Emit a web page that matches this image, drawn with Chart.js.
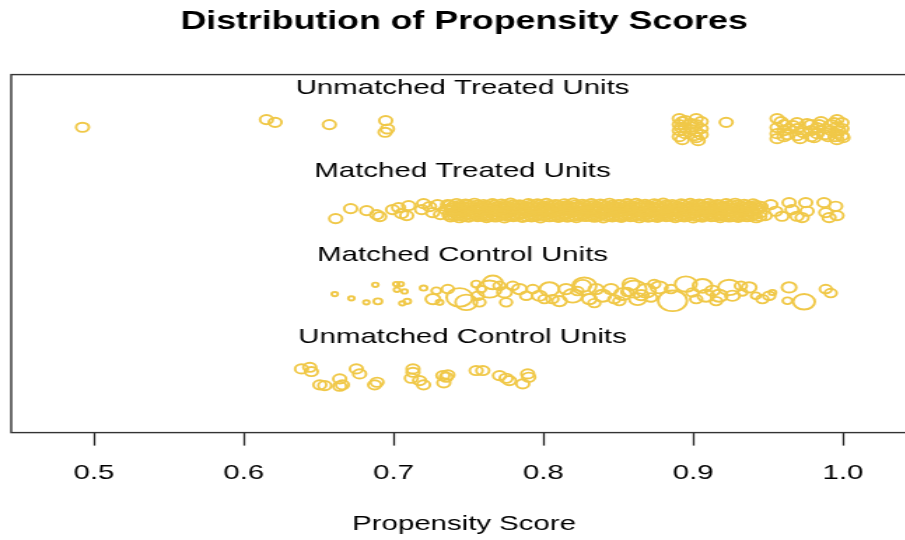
<!DOCTYPE html>
<html lang="en">
<head>
  <meta charset="UTF-8" />
  <title>Distribution of Propensity Scores</title>
  <script src="https://cdn.jsdelivr.net/npm/chart.js"></script>
  <style>
    html, body { margin: 0; padding: 0; overflow: hidden; background: #fff; }
    #wrap { width: 924px; height: 540px; }
  </style>
</head>
<body>
  <div id="wrap">
    <!-- drawn narrow, shown stretched like the original plot -->
    <canvas id="plot" width="660" height="540" style="width:924px;height:540px"></canvas>
  </div>

  <script>
    // tick labels on the x axis
    const tickValues = [0.5, 0.6, 0.7, 0.8, 0.9, 1.0];

    // group names and where their captions sit (y units, one per group)
    const groupNames = ['Unmatched Treated Units', 'Matched Treated Units', 'Matched Control Units', 'Unmatched Control Units'];
    const groupLabelY = [3.47, 2.47, 1.47, 0.48];
    const groupLabelX = 0.746;

    // [propensity score, jittered y]
    const unmatchedTreated = [
      [0.4923, 2.998], [0.6151, 3.090], [0.6209, 3.057], [0.6571, 3.030], [0.6947, 3.078], [0.6959, 2.978], [0.6943, 2.938],
      [0.8907, 3.102], [0.8907, 3.030], [0.8907, 2.958], [0.8907, 2.886], [0.8927, 2.850], [0.8927, 3.066], [0.8920, 2.994],
      [0.8947, 3.078], [0.8947, 2.994], [0.8947, 2.922], [0.8987, 3.042], [0.8987, 2.970], [0.9007, 2.898],
      [0.9020, 3.102], [0.9020, 3.030], [0.9020, 2.946], [0.9020, 2.874], [0.9033, 2.838],
      [0.9053, 3.066], [0.9053, 2.982], [0.9053, 2.910],
      [0.9220, 3.057],
      [0.9560, 3.102], [0.9560, 2.994], [0.9560, 2.922], [0.9560, 2.862], [0.9587, 3.066],
      [0.9607, 3.030], [0.9607, 2.958], [0.9607, 2.886], [0.9627, 2.910], [0.9640, 2.982], [0.9667, 3.018],
      [0.9693, 3.054], [0.9693, 2.982], [0.9693, 2.898], [0.9713, 2.862], [0.9733, 2.934], [0.9760, 3.042],
      [0.9787, 3.030], [0.9787, 2.958], [0.9787, 2.886], [0.9807, 2.874],
      [0.9827, 2.994], [0.9827, 2.922], [0.9840, 3.030], [0.9853, 3.066],
      [0.9880, 2.982], [0.9880, 2.910], [0.9900, 2.886], [0.9920, 3.030], [0.9920, 2.958], [0.9940, 3.054],
      [0.9960, 3.090], [0.9960, 3.006], [0.9960, 2.922], [0.9960, 2.850], [0.9947, 2.886], [0.9973, 2.958],
      [0.9993, 3.054], [0.9993, 2.982], [0.9993, 2.898], [1.0000, 2.874]
    ];

    const matchedTreated = [
      // left tail
      [0.6613, 1.904], [0.6713, 2.024], [0.6820, 2.000], [0.6887, 1.952], [0.6907, 1.928], [0.6993, 2.012],
      [0.7033, 2.036], [0.7053, 1.964], [0.7087, 1.940], [0.7100, 2.060], [0.7187, 2.012], [0.7200, 2.084],
      [0.7240, 2.048], [0.7293, 2.072], [0.7260, 1.976], [0.7313, 1.952], [0.7347, 2.012],
      // dense band
      [0.736, 2.072], [0.742, 2.085], [0.748, 2.078], [0.754, 2.088], [0.760, 2.074], [0.766, 2.083], [0.772, 2.079],
      [0.778, 2.090], [0.784, 2.071], [0.790, 2.084], [0.796, 2.080], [0.802, 2.087], [0.808, 2.073], [0.814, 2.082],
      [0.820, 2.089], [0.826, 2.076], [0.832, 2.084], [0.838, 2.079], [0.844, 2.088], [0.850, 2.072], [0.856, 2.083],
      [0.862, 2.086], [0.868, 2.075], [0.874, 2.082], [0.880, 2.089], [0.886, 2.074], [0.892, 2.081], [0.898, 2.087],
      [0.904, 2.078], [0.910, 2.085], [0.916, 2.072], [0.922, 2.083], [0.928, 2.088], [0.934, 2.076], [0.940, 2.081],
      [0.7375, 2.066], [0.7435, 2.062], [0.7495, 2.069], [0.7555, 2.064], [0.7615, 2.060], [0.7675, 2.068], [0.7735, 2.063],
      [0.7795, 2.067], [0.7855, 2.061], [0.7915, 2.065], [0.7975, 2.069], [0.8035, 2.062], [0.8095, 2.066], [0.8155, 2.060],
      [0.8215, 2.068], [0.8275, 2.064], [0.8335, 2.061], [0.8395, 2.067], [0.8455, 2.063], [0.8515, 2.069], [0.8575, 2.062],
      [0.8635, 2.065], [0.8695, 2.060], [0.8755, 2.068], [0.8815, 2.064], [0.8875, 2.061], [0.8935, 2.067], [0.8995, 2.063],
      [0.9055, 2.069], [0.9115, 2.062], [0.9175, 2.066], [0.9235, 2.060], [0.9295, 2.068], [0.9355, 2.064], [0.9415, 2.061],
      [0.740, 2.055], [0.746, 2.049], [0.752, 2.058], [0.758, 2.051], [0.764, 2.056], [0.770, 2.047], [0.776, 2.054],
      [0.782, 2.059], [0.788, 2.050], [0.794, 2.056], [0.800, 2.048], [0.806, 2.057], [0.812, 2.052], [0.818, 2.046],
      [0.824, 2.055], [0.830, 2.059], [0.836, 2.050], [0.842, 2.054], [0.848, 2.047], [0.854, 2.058], [0.860, 2.051],
      [0.866, 2.056], [0.872, 2.049], [0.878, 2.055], [0.884, 2.059], [0.890, 2.048], [0.896, 2.053], [0.902, 2.057],
      [0.908, 2.050], [0.914, 2.055], [0.920, 2.046], [0.926, 2.058], [0.932, 2.052], [0.938, 2.049], [0.944, 2.055],
      [0.739, 2.031], [0.745, 2.022], [0.751, 2.035], [0.757, 2.024], [0.763, 2.030], [0.769, 2.019], [0.775, 2.033],
      [0.781, 2.026], [0.787, 2.021], [0.793, 2.034], [0.799, 2.028], [0.805, 2.020], [0.811, 2.032], [0.817, 2.025],
      [0.823, 2.036], [0.829, 2.023], [0.835, 2.029], [0.841, 2.018], [0.847, 2.033], [0.853, 2.027], [0.859, 2.021],
      [0.865, 2.035], [0.871, 2.026], [0.877, 2.030], [0.883, 2.019], [0.889, 2.032], [0.895, 2.024], [0.901, 2.029],
      [0.907, 2.036], [0.913, 2.022], [0.919, 2.031], [0.925, 2.026], [0.931, 2.020], [0.937, 2.033], [0.943, 2.027],
      [0.7385, 2.003], [0.7445, 1.996], [0.7505, 2.006], [0.7565, 1.998], [0.7625, 2.004], [0.7685, 1.995], [0.7745, 2.002],
      [0.7805, 2.007], [0.7865, 1.997], [0.7925, 2.003], [0.7985, 1.994], [0.8045, 2.005], [0.8105, 1.999], [0.8165, 2.006],
      [0.8225, 1.996], [0.8285, 2.002], [0.8345, 2.007], [0.8405, 1.998], [0.8465, 2.004], [0.8525, 1.995], [0.8585, 2.003],
      [0.8645, 1.999], [0.8705, 2.006], [0.8765, 1.997], [0.8825, 2.002], [0.8885, 2.005], [0.8945, 1.996], [0.9005, 2.003],
      [0.9065, 1.998], [0.9125, 2.006], [0.9185, 2.001], [0.9245, 1.995], [0.9305, 2.004], [0.9365, 1.999], [0.9425, 2.005],
      [0.741, 1.968], [0.747, 1.979], [0.753, 1.971], [0.759, 1.965], [0.765, 1.977], [0.771, 1.970], [0.777, 1.982],
      [0.783, 1.966], [0.789, 1.975], [0.795, 1.969], [0.801, 1.980], [0.807, 1.972], [0.813, 1.964], [0.819, 1.978],
      [0.825, 1.971], [0.831, 1.976], [0.837, 1.967], [0.843, 1.981], [0.849, 1.973], [0.855, 1.966], [0.861, 1.978],
      [0.867, 1.970], [0.873, 1.975], [0.879, 1.964], [0.885, 1.979], [0.891, 1.972], [0.897, 1.968], [0.903, 1.980],
      [0.909, 1.974], [0.915, 1.966], [0.921, 1.977], [0.927, 1.971], [0.933, 1.982], [0.939, 1.969], [0.945, 1.975],
      [0.737, 1.950], [0.743, 1.944], [0.749, 1.953], [0.755, 1.946], [0.761, 1.941], [0.767, 1.952], [0.773, 1.947],
      [0.779, 1.943], [0.785, 1.954], [0.791, 1.948], [0.797, 1.942], [0.803, 1.951], [0.809, 1.945], [0.815, 1.953],
      [0.821, 1.940], [0.827, 1.949], [0.833, 1.944], [0.839, 1.952], [0.845, 1.946], [0.851, 1.941], [0.857, 1.950],
      [0.863, 1.947], [0.869, 1.953], [0.875, 1.942], [0.881, 1.948], [0.887, 1.951], [0.893, 1.944], [0.899, 1.949],
      [0.905, 1.943], [0.911, 1.952], [0.917, 1.946], [0.923, 1.950], [0.929, 1.941], [0.935, 1.948], [0.941, 1.953],
      [0.7405, 1.935], [0.7465, 1.931], [0.7525, 1.938], [0.7585, 1.933], [0.7645, 1.929], [0.7705, 1.937], [0.7765, 1.932],
      [0.7825, 1.936], [0.7885, 1.930], [0.7945, 1.934], [0.8005, 1.939], [0.8065, 1.931], [0.8125, 1.935], [0.8185, 1.929],
      [0.8245, 1.937], [0.8305, 1.933], [0.8365, 1.930], [0.8425, 1.936], [0.8485, 1.932], [0.8545, 1.938], [0.8605, 1.931],
      [0.8665, 1.934], [0.8725, 1.929], [0.8785, 1.937], [0.8845, 1.933], [0.8905, 1.930], [0.8965, 1.936], [0.9025, 1.932],
      [0.9085, 1.938], [0.9145, 1.931], [0.9205, 1.935], [0.9265, 1.929], [0.9325, 1.937], [0.9385, 1.933], [0.9445, 1.930],
      [0.738, 1.925], [0.744, 1.914], [0.750, 1.921], [0.756, 1.928], [0.762, 1.916], [0.768, 1.923], [0.774, 1.912],
      [0.780, 1.927], [0.786, 1.919], [0.792, 1.924], [0.798, 1.913], [0.804, 1.926], [0.810, 1.918], [0.816, 1.922],
      [0.822, 1.915], [0.828, 1.929], [0.834, 1.920], [0.840, 1.913], [0.846, 1.925], [0.852, 1.918], [0.858, 1.927],
      [0.864, 1.914], [0.870, 1.922], [0.876, 1.919], [0.882, 1.928], [0.888, 1.916], [0.894, 1.924], [0.900, 1.912],
      [0.906, 1.921], [0.912, 1.927], [0.918, 1.915], [0.924, 1.923], [0.930, 1.918], [0.936, 1.926], [0.942, 1.914],
      // right tail
      [0.9453, 2.048], [0.9480, 1.940], [0.9518, 2.072], [0.9551, 1.992], [0.9593, 1.932], [0.9640, 2.096],
      [0.9660, 2.012], [0.9693, 1.932], [0.9751, 2.096], [0.9760, 1.992], [0.9727, 1.916], [0.9873, 2.096],
      [0.9885, 1.976], [0.9907, 1.916], [0.9951, 2.052], [0.9960, 1.940]
    ];

    // [propensity score, jittered y, weight]
    const matchedControl = [
      [0.6607, 1.000, 0.42], [0.6718, 0.949, 0.42], [0.6818, 0.901, 0.42], [0.6878, 1.111, 0.42], [0.6895, 0.913, 0.58],
      [0.7018, 1.120, 0.42], [0.7047, 1.120, 0.42], [0.7022, 1.051, 0.42], [0.7073, 1.032, 0.42], [0.7058, 0.889, 0.42],
      [0.7091, 0.913, 0.50], [0.7200, 1.072, 0.50], [0.7285, 1.040, 0.66], [0.7262, 0.940, 1.00], [0.7362, 1.060, 0.83],
      [0.7307, 0.901, 0.50], [0.7440, 0.960, 1.80], [0.7485, 0.901, 1.50], [0.7551, 1.120, 0.66], [0.7585, 1.060, 0.66],
      [0.7562, 0.980, 0.83], [0.7573, 0.901, 0.83], [0.7640, 1.060, 1.66], [0.7662, 1.140, 1.33], [0.7707, 1.099, 0.83],
      [0.7740, 1.020, 1.00], [0.7751, 0.901, 0.83], [0.7795, 1.099, 0.83], [0.7840, 1.060, 1.00], [0.7885, 0.980, 0.83],
      [0.7929, 1.060, 0.83], [0.7973, 0.980, 1.00], [0.8007, 0.940, 0.83], [0.8040, 1.060, 1.33], [0.8060, 0.940, 0.83],
      [0.8107, 0.916, 1.00], [0.8151, 1.060, 1.00], [0.8195, 0.980, 1.33], [0.8227, 1.036, 0.83], [0.8262, 1.099, 1.16],
      [0.8273, 1.096, 1.66], [0.8307, 0.940, 1.00], [0.8340, 0.892, 0.83], [0.8351, 1.060, 1.00], [0.8395, 0.980, 1.16],
      [0.8451, 1.060, 1.00], [0.8473, 0.940, 0.83], [0.8507, 0.916, 0.83], [0.8529, 1.000, 1.16], [0.8560, 1.024, 0.83],
      [0.8585, 1.120, 1.16], [0.8607, 1.060, 1.66], [0.8629, 0.940, 1.16], [0.8653, 0.988, 1.00], [0.8685, 1.040, 1.33],
      [0.8718, 0.960, 0.83], [0.8740, 1.120, 0.83], [0.8773, 1.080, 1.16], [0.8862, 0.920, 2.00], [0.8851, 1.060, 0.83],
      [0.8951, 1.120, 1.50], [0.8995, 1.020, 0.83], [0.9020, 0.940, 0.83], [0.9062, 1.099, 1.33], [0.9085, 0.980, 1.16],
      [0.9129, 1.040, 1.00], [0.9153, 0.916, 0.83], [0.9173, 0.980, 1.16], [0.9240, 1.080, 1.50], [0.9262, 0.980, 1.00],
      [0.9318, 1.099, 0.83], [0.9329, 1.020, 0.66], [0.9373, 1.080, 1.00], [0.9418, 0.980, 0.66], [0.9462, 0.940, 0.83],
      [0.9507, 0.980, 0.83], [0.9529, 1.020, 0.50], [0.9640, 1.080, 1.00], [0.9629, 0.920, 0.66], [0.9740, 0.908, 1.50],
      [0.9885, 1.060, 0.83], [0.9918, 1.012, 0.83]
    ];

    const unmatchedControl = [
      [0.6385, 0.104], [0.6440, 0.123], [0.6451, 0.072], [0.6507, -0.087], [0.6540, -0.096], [0.6640, -0.016],
      [0.6640, -0.104], [0.6658, -0.087], [0.6751, 0.104], [0.6773, 0.044], [0.6873, -0.087], [0.6889, -0.056],
      [0.7129, 0.104], [0.7129, 0.063], [0.7118, -0.008], [0.7173, -0.036], [0.7200, -0.087], [0.7329, 0.024],
      [0.7351, 0.004], [0.7335, -0.063], [0.7362, 0.032], [0.7551, 0.084], [0.7595, 0.084], [0.7707, 0.024],
      [0.7773, -0.036], [0.7751, -0.008], [0.7862, -0.075], [0.7895, 0.044], [0.7902, 0.004]
    ];

    const gold = '#F0C848';
    const baseRadius = 4.6;
    const fontFamily = '"Liberation Sans", Arial, Helvetica, sans-serif';

    function serie(points, weighted) {
      return {
        data: points.map(p => ({ x: p[0], y: p[1] })),
        borderColor: gold,
        backgroundColor: 'rgba(0,0,0,0)',
        borderWidth: 1.9,
        pointRadius: weighted ? points.map(p => baseRadius * 1.12 * p[2]) : baseRadius,
        showLine: false
      };
    }

    // box around the plot region and the group captions
    const boxAndLabels = {
      id: 'boxAndLabels',
      afterDraw(chart) {
        const { ctx, chartArea, scales } = chart;
        ctx.save();
        ctx.strokeStyle = '#333';
        ctx.lineWidth = 1.4;
        ctx.strokeRect(chartArea.left, chartArea.top, chartArea.right - chartArea.left, chartArea.bottom - chartArea.top);
        ctx.fillStyle = '#000';
        ctx.font = '21px ' + fontFamily;
        ctx.textAlign = 'center';
        ctx.textBaseline = 'middle';
        groupNames.forEach((nom, i) => {
          ctx.fillText(nom, scales.x.getPixelForValue(groupLabelX), scales.y.getPixelForValue(groupLabelY[i]));
        });
        ctx.restore();
      }
    };

    new Chart(document.getElementById('plot'), {
      type: 'scatter',
      data: {
        datasets: [
          serie(unmatchedTreated, false),
          serie(matchedTreated, false),
          serie(matchedControl, true),
          serie(unmatchedControl, false)
        ]
      },
      options: {
        responsive: false,
        devicePixelRatio: 1,
        animation: false,
        events: [],
        layout: { autoPadding: false, padding: { left: 8, right: 5, top: 0, bottom: 0 } },
        plugins: {
          legend: { display: false },
          tooltip: { enabled: false },
          title: {
            display: true,
            text: 'Distribution of Propensity Scores',
            color: '#000',
            font: { family: fontFamily, size: 25.5, weight: 'bold' },
            padding: { top: 7, bottom: 37 }
          }
        },
        scales: {
          x: {
            type: 'linear',
            bounds: 'data',
            min: 0.4447,
            max: 1.0494,
            afterBuildTicks: axis => { axis.ticks = tickValues.map(v => ({ value: v })); },
            ticks: {
              color: '#000',
              font: { family: fontFamily, size: 21 },
              padding: 15,
              maxRotation: 0,
              callback: v => Number(v).toFixed(1)
            },
            grid: {
              display: true,
              drawOnChartArea: false,
              drawTicks: true,
              tickLength: 13,
              tickColor: '#222',
              tickWidth: 1.3
            },
            border: { display: false },
            title: {
              display: true,
              text: 'Propensity Score',
              color: '#000',
              font: { family: fontFamily, size: 21 },
              padding: { top: 11, bottom: 3 }
            }
          },
          y: {
            type: 'linear',
            display: false,
            min: -0.659,
            max: 3.629
          }
        }
      },
      plugins: [boxAndLabels]
    });
  </script>
</body>
</html>
